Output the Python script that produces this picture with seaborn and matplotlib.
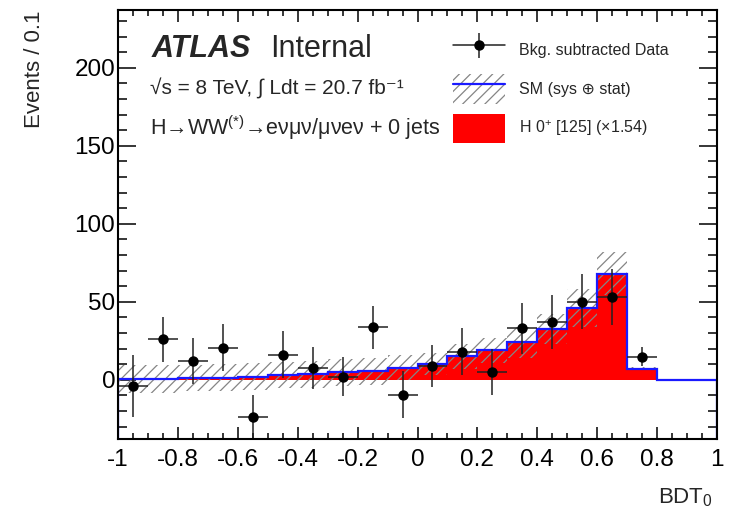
import numpy as np
import pandas as pd
import matplotlib
matplotlib.use("Agg")
import matplotlib.pyplot as plt
from matplotlib.patches import Patch
from matplotlib.lines import Line2D
from matplotlib.legend_handler import HandlerTuple
from matplotlib.ticker import MultipleLocator, FuncFormatter
import seaborn as sns

# BDT_0 binning: 20 bins of width 0.1
bin_edges = np.round(np.linspace(-1.0, 1.0, 21), 2)
bin_centers = 0.5 * (bin_edges[:-1] + bin_edges[1:])

# SM prediction (H 0+ [125] scaled by 1.54) per bin
sm_signal = [0.3, 0.5, 1.0, 1.3, 2.0, 3.0, 3.5, 4.7, 5.3, 7.8,
             10.0, 15.0, 19.0, 24.0, 32.5, 46.0, 68.0, 7.0, 0.0, 0.0]
# sys (+) stat uncertainty on the SM prediction
sm_error = [9.0, 9.0, 8.5, 8.5, 8.5, 8.5, 8.5, 8.5, 8.5, 8.0,
            7.0, 8.0, 8.0, 10.0, 9.5, 12.0, 14.0, 1.0, 0.0, 0.0]

# Background-subtracted data (first 18 bins)
data_values = [-4.0, 26.0, 12.0, 20.5, -24.0, 16.0, 7.5, 2.0, 33.5, -9.5,
               9.0, 18.0, 5.0, 33.0, 37.0, 50.0, 53.0, 14.7]
data_errors = [20.0, 14.5, 14.5, 15.0, 14.0, 15.0, 13.5, 12.5, 13.5, 15.0,
               13.5, 15.0, 15.0, 16.5, 17.0, 17.5, 18.0, 6.0]

x_ticks = [-1, -0.8, -0.6, -0.4, -0.2, 0, 0.2, 0.4, 0.6, 0.8, 1]
y_ticks = [0, 50, 100, 150, 200]
y_range = (-38, 237)

sns.set_theme(style="ticks")
plt.rcParams["font.family"] = ["Liberation Sans", "DejaVu Sans"]
plt.rcParams["mathtext.fontset"] = "custom"
plt.rcParams["mathtext.rm"] = "Liberation Sans"
plt.rcParams["mathtext.it"] = "Liberation Sans:italic"
plt.rcParams["mathtext.bf"] = "Liberation Sans:bold"
plt.rcParams["axes.unicode_minus"] = False
plt.rcParams["hatch.linewidth"] = 0.9

W, H = 731, 515
fig = plt.figure(figsize=(W / 100, H / 100), dpi=100)
ax = fig.add_axes([118 / W, 1 - 439 / H, (717 - 118) / W, (439 - 10) / H])


def fx(px):
    return px / W


def fy(py):
    return 1 - py / H


signal = np.array(sm_signal)
err = np.array(sm_error)
hist_df = pd.DataFrame({"bdt": bin_centers, "events": signal})

# Red signal histogram
sns.histplot(data=hist_df, x="bdt", weights="events",
             bins=[float(b) for b in bin_edges],
             element="step", fill=True, color="#ff0000", alpha=1.0,
             linewidth=0, ax=ax, zorder=1)

# Hatched uncertainty band on top of the signal
lo = signal - err
hi = signal + err
ax.fill_between(bin_edges, np.append(lo, lo[-1]), np.append(hi, hi[-1]),
                step="post", facecolor="none", edgecolor="#858585",
                hatch="///", linewidth=0, zorder=2)

# SM outline
ax.stairs(signal, bin_edges, baseline=y_range[0], color="#1a1aff",
          linewidth=1.6, zorder=3)

# Data points
n_data = len(data_values)
ax.errorbar(bin_centers[:n_data], data_values, xerr=0.05, yerr=data_errors,
            fmt="o", color="black", ecolor="#222222", elinewidth=1.1,
            capsize=0, markersize=6.5, zorder=5)

ax.set_xlim(-1, 1)
ax.set_ylim(*y_range)
ax.set_xticks(x_ticks)
ax.set_yticks(y_ticks)
ax.xaxis.set_minor_locator(MultipleLocator(0.05))
ax.yaxis.set_minor_locator(MultipleLocator(10))
ax.xaxis.set_major_formatter(FuncFormatter(lambda v, p: "%g" % v))
ax.yaxis.set_major_formatter(FuncFormatter(lambda v, p: "%g" % v))

ax.tick_params(axis="both", which="both", direction="in", top=True,
               right=True, colors="black", width=1.1, labelsize=17.5)
ax.tick_params(axis="x", which="major", length=8.6, pad=7)
ax.tick_params(axis="x", which="minor", length=4.3)
ax.tick_params(axis="y", which="major", length=13, pad=2)
ax.tick_params(axis="y", which="minor", length=6.5)
for s in ax.spines.values():
    s.set_linewidth(1.5)
    s.set_color("black")
    s.set_zorder(6)

ax.set_xlabel("")
ax.set_ylabel("")
fig.text(fx(34), fy(10), "Events / 0.1", rotation=90, ha="center", va="top",
         fontsize=16)
fig.text(fx(713), fy(503), "BDT$_0$", ha="right", va="baseline", fontsize=16)

# Experiment labels
fig.text(fx(152), fy(57), "ATLAS", fontsize=22, fontweight="bold",
         fontstyle="italic", va="baseline", ha="left")
fig.text(fx(270), fy(57), "Internal", fontsize=22, va="baseline", ha="left")
fig.text(fx(150), fy(95), "√s = 8 TeV, ∫ Ldt = 20.7 fb⁻¹",
         fontsize=15, va="baseline", ha="left")
fig.text(fx(150), fy(135), r"H→WW$^{\rm (*)}$→eνμν/μνeν + 0 jets",
         fontsize=15.5, va="baseline", ha="left")

# Legend
data_handle = (Line2D([], [], color="#222222", linewidth=1.1),
               Line2D([], [], marker="|", markersize=18, markeredgewidth=1.1,
                      color="#222222", linestyle="none"),
               Line2D([], [], marker="o", markersize=6.5, color="black",
                      linestyle="none"))
sm_handle = (Patch(facecolor="none", edgecolor="#858585", hatch="///",
                   linewidth=0),
             Line2D([], [], color="#1a1aff", linewidth=1.6))
sig_handle = Patch(facecolor="#ff0000", edgecolor="none")
leg = ax.legend([data_handle, sm_handle, sig_handle],
                ["Bkg. subtracted Data", "SM (sys ⊕ stat)",
                 "H 0$^{+}$ [125] (×1.54)"],
                handler_map={tuple: HandlerTuple(ndivide=1, pad=0)},
                loc="upper left", bbox_to_anchor=(fx(453), fy(35)),
                bbox_transform=fig.transFigure, frameon=False, fontsize=11.5,
                borderpad=0, borderaxespad=0, handlelength=3.25,
                handleheight=2.45, labelspacing=0.63, handletextpad=0.9,
                numpoints=1)

fig.savefig("out.png", dpi=100)
